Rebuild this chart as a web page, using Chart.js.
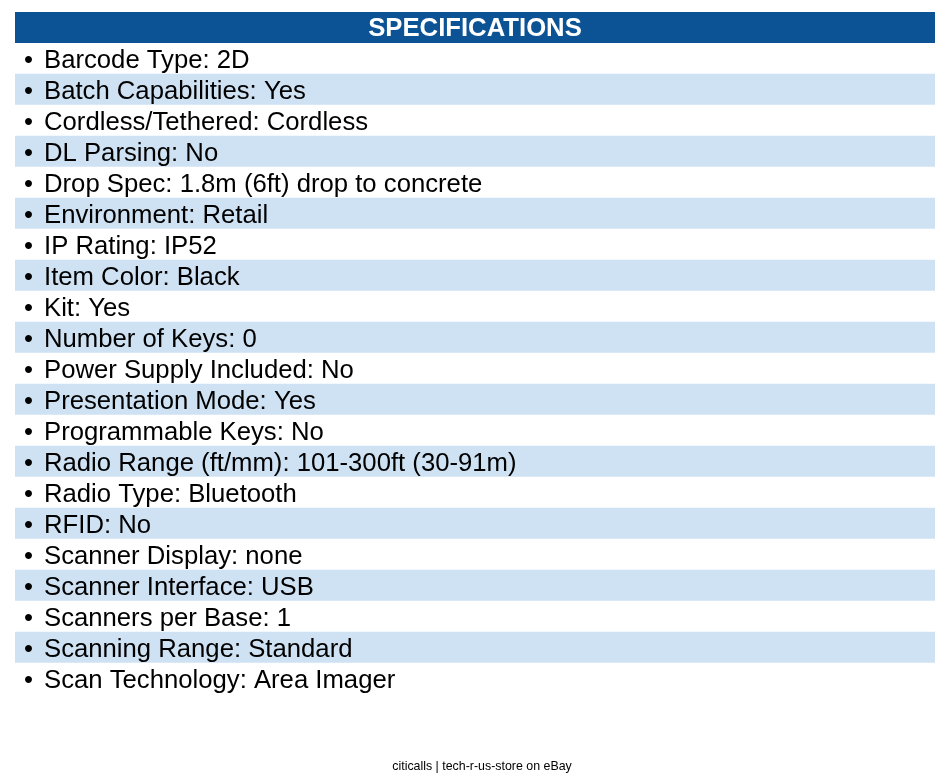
<!DOCTYPE html>
<html><head><meta charset="utf-8">
<script src="https://cdn.jsdelivr.net/npm/chart.js@4/dist/chart.umd.min.js"></script>
<style>html,body{margin:0;padding:0;background:#fff}#wrap{width:950px;height:784px}</style>
</head><body><div id="wrap"><canvas id="c" width="950" height="784"></canvas></div>
<script>
const title = "SPECIFICATIONS";
const footer = "citicalls | tech-r-us-store on eBay";
const specs = [
"Barcode Type: 2D","Batch Capabilities: Yes","Cordless/Tethered: Cordless","DL Parsing: No",
"Drop Spec: 1.8m (6ft) drop to concrete","Environment: Retail","IP Rating: IP52","Item Color: Black",
"Kit: Yes","Number of Keys: 0","Power Supply Included: No","Presentation Mode: Yes",
"Programmable Keys: No","Radio Range (ft/mm): 101-300ft (30-91m)","Radio Type: Bluetooth","RFID: No",
"Scanner Display: none","Scanner Interface: USB","Scanners per Base: 1","Scanning Range: Standard",
"Scan Technology: Area Imager"];
const rowFill = specs.map(()=>1);
const colors = specs.map((_,i)=> i%2 ? '#cfe2f3' : '#ffffff');

const deco = {
  id:'deco',
  afterDatasetsDraw(chart){
    const {ctx, chartArea:a, scales:{y}} = chart;
    ctx.save();
    ctx.fillStyle='#0b5394';
    ctx.fillRect(a.left, 12, a.right-a.left, a.top-12);
    ctx.fillStyle='#fff'; ctx.font='bold 25.7px "Liberation Sans", Arial';
    ctx.textAlign='center'; ctx.textBaseline='middle';
    ctx.fillText(title, (a.left+a.right)/2, 29);
    ctx.fillStyle='#000'; ctx.textAlign='left'; ctx.font='25.7px "Liberation Sans", Arial';
    specs.forEach((s,i)=>{
      const py = y.getPixelForValue(i)+2;
      ctx.fillText('•', a.left+9, py);
      ctx.fillText(s, a.left+29, py);
    });
    ctx.font='12.4px "Liberation Sans", Arial'; ctx.textAlign='center';
    ctx.fillText(footer, 482, 767);
    ctx.restore();
  }
};

new Chart(document.getElementById('c'), {
  type:'bar',
  data:{labels:specs, datasets:[{data:rowFill, backgroundColor:colors, barPercentage:1, categoryPercentage:1, borderWidth:0}]},
  options:{
    indexAxis:'y', responsive:false, animation:false,
    layout:{padding:{left:15,right:15,top:43,bottom:90}},
    scales:{x:{display:false,min:0,max:1}, y:{display:false}},
    plugins:{legend:{display:false}, tooltip:{enabled:false}}
  },
  plugins:[deco]
});
</script></body></html>
